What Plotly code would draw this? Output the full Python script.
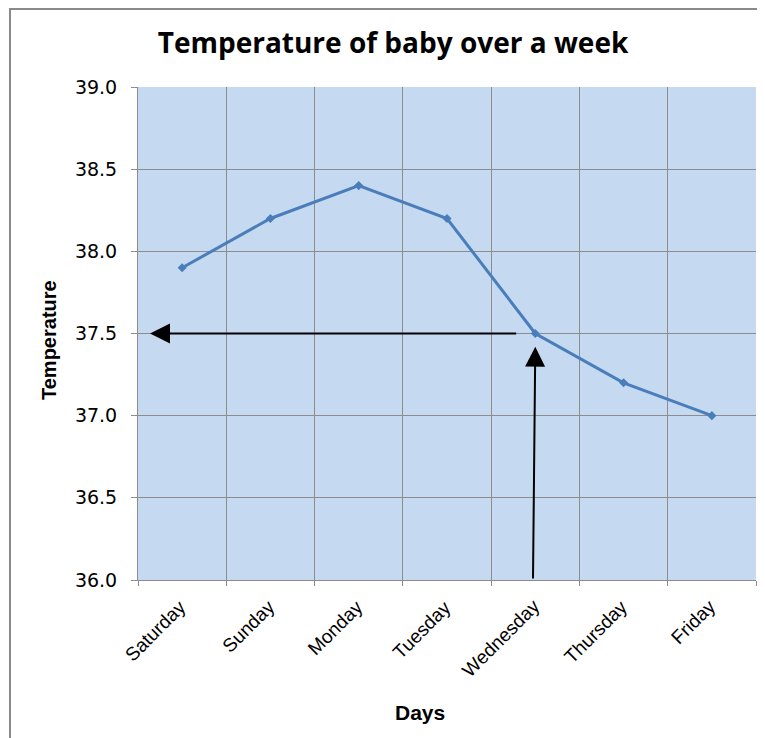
import plotly.graph_objects as go

days = ["Saturday", "Sunday", "Monday", "Tuesday", "Wednesday", "Thursday", "Friday"]
temperature = [37.9, 38.2, 38.4, 38.2, 37.5, 37.2, 37.0]
y_ticks = [36.0, 36.5, 37.0, 37.5, 38.0, 38.5, 39.0]
y_tick_labels = ["36.0", "36.5", "37.0", "37.5", "38.0", "38.5", "39.0"]

# The page body has an 8px margin; work in reference pixel coordinates and shift.
OFF = 8
W, H = 765 - OFF, 738 - OFF
PL, PT, PR, PB = 138, 87, 756, 580   # plot area in reference pixels
pw, ph = PR - PL, PB - PT


def px(x):
    return (x - PL) / pw


def py(y):
    return (PB - y) / ph


fig = go.Figure()
fig.add_trace(go.Scatter(
    x=list(range(len(days))), y=temperature, mode="lines+markers",
    line=dict(color="#4a7ebb", width=3),
    marker=dict(symbol="diamond", size=7, color="#4a7ebb"),
    showlegend=False, hoverinfo="skip",
))

grid = "#8c8c8c"
fig.update_layout(
    width=W, height=H,
    margin=dict(l=PL - OFF, r=765 - PR, t=PT - OFF, b=738 - PB),
    paper_bgcolor="white",
    plot_bgcolor="#c5d9f1",
    title=dict(text="<b>Temperature of baby over a week</b>",
               font=dict(family="Open Sans", size=28, color="black"),
               x=(393 - OFF) / W, xref="container", xanchor="center",
               y=1 - (43 - OFF) / H, yref="container", yanchor="middle"),
    xaxis=dict(
        range=[-0.5, 6.5], tickmode="array",
        tickvals=[i - 0.5 for i in range(8)], ticktext=[""] * 8,
        showgrid=True, gridcolor=grid, gridwidth=1,
        ticks="outside", ticklen=5, tickcolor=grid,
        showline=True, linecolor=grid, linewidth=1,
        zeroline=False,
    ),
    yaxis=dict(
        range=[36.0, 39.0], tickmode="array", tickvals=y_ticks, ticktext=y_tick_labels,
        showgrid=True, gridcolor=grid, gridwidth=1,
        ticks="outside", ticklen=6, tickcolor=grid,
        showline=True, linecolor=grid, linewidth=1,
        zeroline=False,
        tickfont=dict(family="DejaVu Sans", size=19, color="black"),
        ticklabelstandoff=10,
    ),
)

# Category labels (rotated), placed at category centers
for i, d in enumerate(days):
    fig.add_annotation(
        x=i, y=0, xref="x", yref="paper", text=d, showarrow=False,
        textangle=-45, xanchor="right", yanchor="top",
        xshift=11, yshift=-13,
        font=dict(family="Liberation Sans", size=19, color="black"),
    )

# Axis titles
fig.add_annotation(x=px(420), y=py(712), xref="paper", yref="paper",
                   text="<b>Days</b>", showarrow=False, xanchor="center", yanchor="middle",
                   font=dict(family="Liberation Sans", size=21, color="black"))
fig.add_annotation(x=px(49), y=py(340), xref="paper", yref="paper",
                   text="<b>Temperature</b>", showarrow=False,
                   textangle=-90, xanchor="center", yanchor="middle",
                   font=dict(family="Liberation Sans", size=20, color="black"))

# Arrows
fig.add_annotation(x=-0.364, y=37.5, ax=3.80, ay=37.5, xref="x", yref="y", axref="x", ayref="y",
                   text="", showarrow=True, arrowhead=2, arrowsize=2, arrowwidth=2,
                   arrowcolor="black", standoff=0)
fig.add_annotation(x=4.0, y=37.42, ax=3.974, ay=36.0, xref="x", yref="y", axref="x", ayref="y",
                   text="", showarrow=True, arrowhead=2, arrowsize=2, arrowwidth=2,
                   arrowcolor="black", standoff=0)

# Outer chart border
fig.add_shape(type="rect", xref="paper", yref="paper",
              x0=px(10), x1=px(790), y0=py(760), y1=py(9),
              line=dict(color="#8a8a8a", width=2), fillcolor="rgba(0,0,0,0)", layer="below")

fig.write_html("out.html")
